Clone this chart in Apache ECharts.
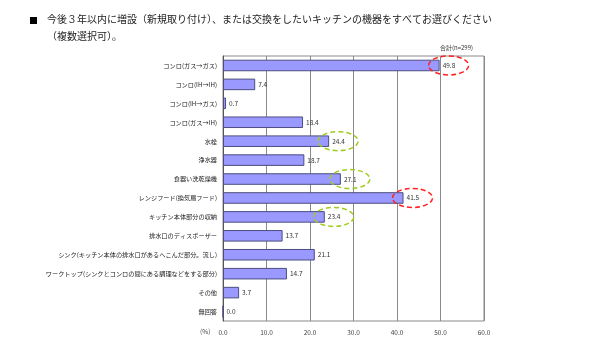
<!DOCTYPE html>
<html>
<head>
<meta charset="utf-8">
<script src="https://cdn.jsdelivr.net/npm/echarts@6/dist/echarts.min.js"></script>
<style>
html,body{margin:0;padding:0;background:#fff;}
#chart{width:600px;height:352px;}
</style>
</head>
<body>
<div id="chart"></div>
<script>
// 項目（上から順）
const categories = [
    'コンロ(ガス→ガス)',
    'コンロ(IH→IH)',
    'コンロ(IH→ガス)',
    'コンロ(ガス→IH)',
    '水栓',
    '浄水器',
    '食器い洗乾燥機',
    'レンジフード(換気扇フード)',
    'キッチン本体部分の収納',
    '排水口のディスポーザー',
    'シンク(キッチン本体の排水口があるへこんだ部分。流し)',
    'ワークトップ(シンクとコンロの間にある調理などをする部分)',
    'その他',
    '無回答'
]
// 合計(n=299) の割合
const values = [49.8, 7.4, 0.7, 18.4, 24.4, 18.7, 27.1, 41.5, 23.4, 13.7, 21.1, 14.7, 3.7, 0.0]
// 丸で囲まれた項目
const redMarks = ['コンロ(ガス→ガス)', 'レンジフード(換気扇フード)']
const greenMarks = ['水栓', '食器い洗乾燥機', 'キッチン本体部分の収納']

const font = '"Noto Sans CJK JP", "Noto Sans", sans-serif'

let chart = echarts.init(document.querySelector('#chart'))
let option = {
    animation: false,
    textStyle: { fontFamily: font },
    grid: {
        left: 223, right: 116, top: 56, bottom: 31,
        show: true,
        borderColor: '#8a8a8a',
        borderWidth: 1
    },
    xAxis: {
        type: 'value',
        min: 0,
        max: 60,
        interval: 10,
        axisLine: { show: false },
        axisTick: { show: false },
        splitLine: { lineStyle: { color: '#8a8a8a', width: 1 } },
        axisLabel: {
            fontSize: 6.5,
            color: '#444',
            margin: 8,
            formatter: v => v.toFixed(1)
        }
    },
    yAxis: {
        type: 'category',
        inverse: true,
        data: categories,
        axisLine: { lineStyle: { color: '#555', width: 1 } },
        axisTick: { inside: true, length: 2, lineStyle: { color: '#777' } },
        axisLabel: {
            fontSize: 6.2,
            color: '#1a1a1a',
            margin: 6
        }
    },
    series: [{
        type: 'bar',
        data: values,
        barCategoryGap: '39%',
        itemStyle: {
            color: '#9999ff',
            borderColor: '#4d4d80',
            borderWidth: 1
        },
        label: {
            show: true,
            position: 'right',
            distance: 3,
            fontSize: 6.5,
            color: '#333',
            formatter: p => p.value.toFixed(1)
        }
    }],
    graphic: [
        { type: 'rect', shape: { x: 30, y: 17, width: 7, height: 7 }, style: { fill: '#000' } },
        { type: 'text', left: 47, top: 14, style: {
            text: '今後３年以内に増設（新規取り付け）、または交換をしたいキッチンの機器をすべてお選びください',
            fontSize: 10, fill: '#222', fontFamily: font } },
        { type: 'text', left: 47, top: 31, style: {
            text: '（複数選択可）。', fontSize: 10, fill: '#222', fontFamily: font } },
        { type: 'text', left: 440, top: 45, style: {
            text: '合計(n=299)', fontSize: 6, fill: '#333', fontFamily: font } },
        { type: 'text', left: 200, top: 328, style: {
            text: '(%)', fontSize: 6.5, fill: '#444', fontFamily: font } }
    ]
}
chart.setOption(option)

// 注目項目を破線の楕円で囲む
function markEllipse(name, color){
    let i = categories.indexOf(name)
    let p = chart.convertToPixel({ gridIndex: 0 }, [values[i], name])
    return {
        type: 'ellipse',
        shape: { cx: p[0] + 9, cy: p[1], rx: 20, ry: 9.5 },
        style: { fill: null, stroke: color, lineWidth: 1.5, lineDash: [5, 3] },
        z: 10
    }
}
let marks = []
redMarks.forEach(n => marks.push(markEllipse(n, '#ff2020')))
greenMarks.forEach(n => marks.push(markEllipse(n, '#a0cc20')))
chart.setOption({ graphic: option.graphic.concat(marks) })
</script>
</body>
</html>
